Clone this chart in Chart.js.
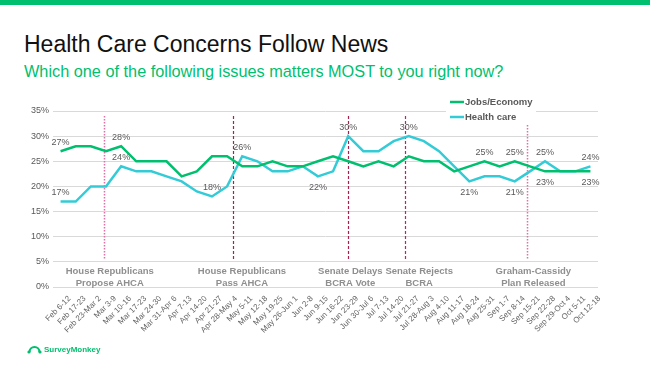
<!DOCTYPE html>
<html>
<head>
<meta charset="utf-8">
<script src="https://cdn.jsdelivr.net/npm/chart.js@4.4.0/dist/chart.umd.min.js"></script>
<style>
  html, body { margin: 0; padding: 0; background: #fff; }
  body { width: 650px; height: 366px; position: relative; overflow: hidden; font-family: "Liberation Sans", Arial, sans-serif; }
  .topbar { position: absolute; left: 0; top: 0; width: 650px; height: 5px; background: #00BF6F; }
  .title { position: absolute; left: 24px; top: 33px; font-size: 23px; line-height: 1; color: #111; white-space: nowrap; }
  .subtitle { position: absolute; left: 24px; top: 63px; font-size: 16.3px; line-height: 1; color: #00BF6F; white-space: nowrap; }
  #wrap { position: absolute; left: 0; top: 0; width: 650px; height: 366px; }
  .logo { position: absolute; left: 27px; top: 343px; height: 12px; display: flex; align-items: center; gap: 2px; color: #00BF6F; font-size: 8px; font-weight: bold; }
</style>
</head>
<body>
<div class="topbar"></div>
<div class="title">Health Care Concerns Follow News</div>
<div class="subtitle">Which one of the following issues matters MOST to you right now?</div>
<div id="wrap"><canvas id="chart"></canvas></div>
<div class="logo">
  <svg width="15" height="10" viewBox="0 0 15 10">
    <path d="M2.5 8 A5 5 0 0 1 12.5 8" fill="none" stroke="#00BF6F" stroke-width="2.2"/>
    <circle cx="2" cy="8" r="1.6" fill="#00BF6F"/>
    <circle cx="13" cy="8" r="1.6" fill="#00BF6F"/>
  </svg>
  <span>SurveyMonkey</span>
</div>

<script>
// ---------------------------------------------
// Dados
// ---------------------------------------------
const weeks = [
  'Feb 6-12', 'Feb 17-23', 'Feb 23-Mar 2', 'Mar 3-9', 'Mar 10-16', 'Mar 17-23',
  'Mar 24-30', 'Mar 31-Apr 6', 'Apr 7-13', 'Apr 14-20', 'Apr 21-27', 'Apr 28-May 4',
  'May 5-11', 'May 12-18', 'May 19-25', 'May 26-Jun 1', 'Jun 2-8', 'Jun 9-15',
  'Jun 16-22', 'Jun 23-29', 'Jun 30-Jul 6', 'Jul 7-13', 'Jul 14-20', 'Jul 21-27',
  'Jul 28-Aug 3', 'Aug 4-10', 'Aug 11-17', 'Aug 18-24', 'Aug 25-31', 'Sep 1-7',
  'Sep 8-14', 'Sep 15-21', 'Sep 22-28', 'Sep 29-Oct 4', 'Oct 5-11', 'Oct 12-18'
];

const jobsEconomy = [27, 28, 28, 27, 28, 25, 25, 25, 22, 23, 26, 26, 24, 24, 25, 24, 24, 25,
                     26, 25, 24, 25, 24, 26, 25, 25, 23, 24, 25, 24, 25, 24, 23, 23, 23, 23];
const healthCare  = [17, 17, 20, 20, 24, 23, 23, 22, 21, 19, 18, 20, 26, 25, 23, 23, 24, 22,
                     23, 30, 27, 27, 29, 30, 29, 27, 24, 21, 22, 22, 21, 23, 25, 23, 23, 24];

// which points get a value label (index lists)
const jobsLabelsAbove = [0, 4, 28, 30];
const jobsLabelsBelow = [32, 35];
const healthLabelsAbove = [0, 4, 10, 12, 19, 23, 32, 35];
const healthLabelsBelow = [17, 27, 30];

// news events (position in category units)
const eventPos   = [2.9, 11.4, 19, 22.75, 30.8];
const eventText  = [
  ['House Republicans', 'Propose AHCA'],
  ['House Republicans', 'Pass AHCA'],
  ['Senate Delays', 'BCRA Vote'],
  ['Senate Rejects', 'BCRA'],
  ['Graham-Cassidy', 'Plan Released']
];
const eventTextPos = [3.25, 11.98, 19.14, 23.69, 31.23];
const eventStyle = ['dot', 'dash', 'dash', 'dash2', 'dot'];

const GREEN = '#00BF6F';
const CYAN = '#33CCD6';
const FONT = '"Liberation Sans", Arial, sans-serif';

// ---------------------------------------------
// Plugin: linhas de eventos, rótulos, legenda
// ---------------------------------------------
const overlay = {
  id: 'overlay',
  beforeDatasetsDraw(chart) {
    const { ctx, scales: { x, y } } = chart;
    ctx.save();
    eventPos.forEach((p, i) => {
      const px = Math.round(x.getPixelForValue(p)) + 0.5;
      const st = eventStyle[i];
      if (st === 'dot') {
        ctx.strokeStyle = '#E070A5';
        ctx.lineWidth = 1.5;
        ctx.setLineDash([1.5, 1.5]);
      } else {
        ctx.strokeStyle = st === 'dash2' ? '#C41C68' : '#A3214F';
        ctx.lineWidth = 1.2;
        ctx.setLineDash([3, 2]);
      }
      ctx.beginPath();
      ctx.moveTo(px, y.getPixelForValue(34));
      ctx.lineTo(px, y.getPixelForValue(5.5));
      ctx.stroke();
    });
    ctx.restore();
  },
  afterDatasetsDraw(chart) {
    const { ctx, scales: { x, y } } = chart;
    ctx.save();
    ctx.font = '9px ' + FONT;
    ctx.fillStyle = '#595959';
    ctx.textAlign = 'center';
    ctx.textBaseline = 'middle';
    const put = (data, idx, dy) => idx.forEach(i => {
      ctx.fillText(data[i] + '%', x.getPixelForValue(i), y.getPixelForValue(data[i]) + dy);
    });
    put(jobsEconomy, jobsLabelsAbove, -9);
    put(jobsEconomy, jobsLabelsBelow, 11.5);
    put(healthCare, healthLabelsAbove, -9);
    put(healthCare, healthLabelsBelow, 11.5);

    // event captions
    ctx.font = 'bold 9.5px ' + FONT;
    ctx.fillStyle = '#8F8F8F';
    eventText.forEach((lines, i) => {
      const px = x.getPixelForValue(eventTextPos[i]);
      const base = y.getPixelForValue(3.2);
      lines.forEach((t, k) => ctx.fillText(t, px, base + k * 12));
    });
    ctx.restore();
  },
  afterDraw(chart) {
    const { ctx } = chart;
    ctx.save();
    // legend box
    ctx.fillStyle = '#fff';
    ctx.fillRect(446, 93, 90, 31);
    const items = [['Jobs/Economy', GREEN], ['Health care', CYAN]];
    ctx.font = 'bold 9.5px ' + FONT;
    ctx.textBaseline = 'middle';
    items.forEach(([label, color], i) => {
      const ly = 102 + i * 15;
      ctx.strokeStyle = color;
      ctx.lineWidth = 2.5;
      ctx.beginPath();
      ctx.moveTo(450, ly);
      ctx.lineTo(464, ly);
      ctx.stroke();
      ctx.fillStyle = '#595959';
      ctx.fillText(label, 465, ly);
    });
    ctx.restore();
  }
};

// ---------------------------------------------
// Gráfico
// ---------------------------------------------
new Chart(document.getElementById('chart'), {
  type: 'line',
  data: {
    labels: weeks,
    datasets: [
      { label: 'Jobs/Economy', data: jobsEconomy, borderColor: GREEN, borderWidth: 2.5,
        pointRadius: 0, tension: 0, fill: false },
      { label: 'Health care', data: healthCare, borderColor: CYAN, borderWidth: 2.5,
        pointRadius: 0, tension: 0, fill: false }
    ]
  },
  options: {
    responsive: true,
    maintainAspectRatio: false,
    animation: false,
    layout: { padding: { top: 111, right: 52, bottom: 0, left: 0 } },
    plugins: { legend: { display: false }, tooltip: { enabled: false } },
    scales: {
      x: {
        offset: true,
        grid: { display: false, drawTicks: false },
        border: { display: false },
        ticks: {
          autoSkip: false, maxRotation: 45, minRotation: 45,
          font: { size: 8, family: FONT }, color: '#666', padding: 7, labelOffset: 9
        },
        afterFit: s => { s.height = 79; }
      },
      y: {
        min: 0, max: 35,
        grid: { color: '#D9D9D9', lineWidth: 1, drawTicks: false },
        border: { display: false },
        ticks: { stepSize: 5, font: { size: 9, family: FONT }, color: '#595959', padding: 4, callback: v => v + '%' },
        afterFit: s => { s.width = 53; }
      }
    }
  },
  plugins: [overlay]
});
</script>
</body>
</html>
